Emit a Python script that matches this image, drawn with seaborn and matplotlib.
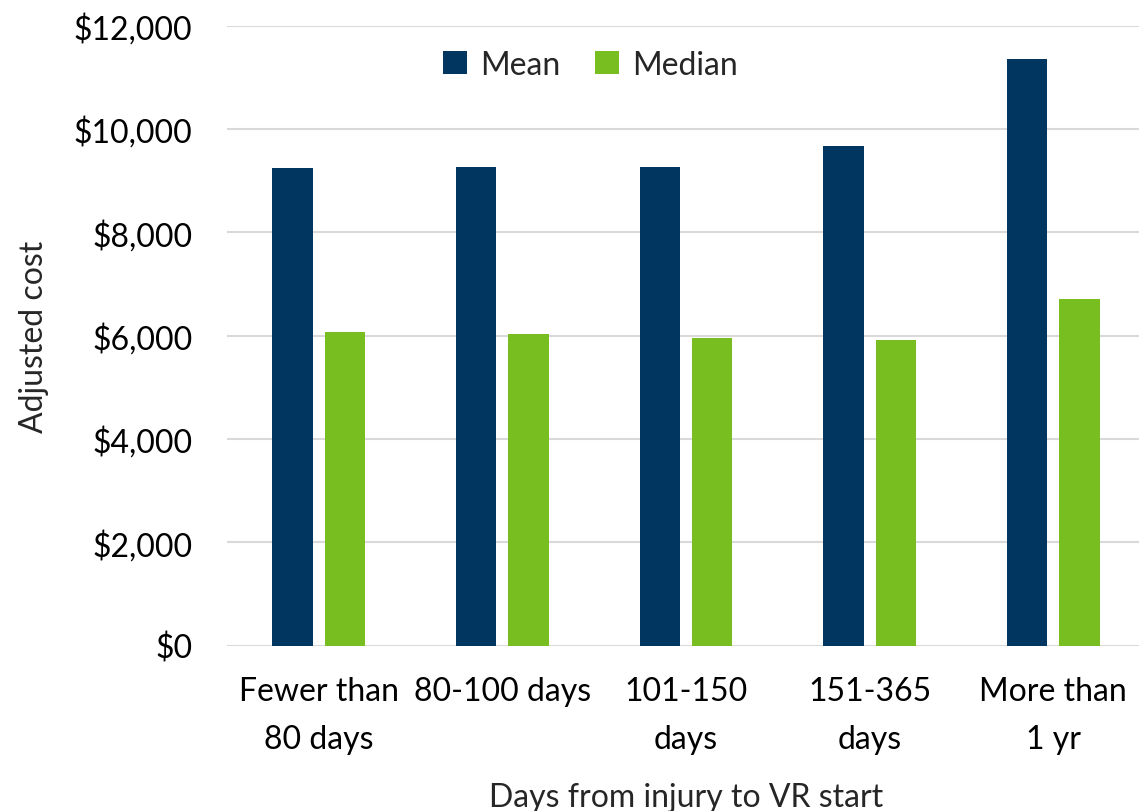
import matplotlib
matplotlib.use("Agg")
import matplotlib.pyplot as plt
import seaborn as sns
import pandas as pd
from matplotlib.ticker import FuncFormatter

categories = ["Fewer than\n80 days", "80-100 days", "101-150\ndays", "151-365\ndays", "More than\n1 yr"]
mean_values = [9235, 9265, 9260, 9670, 11355]
median_values = [6070, 6025, 5955, 5910, 6715]
series = ["Mean", "Median"]
colors = ["#00365F", "#78BE21"]

df = pd.DataFrame({
    "cat": categories * 2,
    "val": mean_values + median_values,
    "series": [series[0]] * len(categories) + [series[1]] * len(categories),
})

sns.set_theme(style="white")
plt.rcParams["font.family"] = ["Lato", "DejaVu Sans"]

FS = 23
fig = plt.figure(figsize=(11.39, 8.12), dpi=100)
ax = fig.add_axes([227 / 1139, 165.5 / 812, 918 / 1139, 620 / 812])

sns.barplot(data=df, x="cat", y="val", hue="series", palette=colors,
            width=0.57, gap=0.23, ax=ax, saturation=1, linewidth=0, zorder=3)

ax.set_ylim(0, 12000)
ax.set_yticks(range(0, 12001, 2000))
ax.yaxis.set_major_formatter(FuncFormatter(lambda v, p: f"${int(v):,}"))
ax.grid(axis="y", color="#d9d9d9", linewidth=1.5, zorder=0)
ax.set_axisbelow(True)
for s in ax.spines.values():
    s.set_visible(False)
ax.tick_params(axis="both", length=0, labelsize=FS, colors="black")
ax.tick_params(axis="y", pad=25)
ax.tick_params(axis="x", pad=22)
for lab in ax.get_xticklabels():
    lab.set_linespacing(1.75)

ax.set_ylabel("Adjusted cost", fontsize=FS, labelpad=18)
ax.set_xlabel("Days from injury to VR start", fontsize=FS, labelpad=20)

leg = ax.legend(loc="upper center", bbox_to_anchor=(0.396, 1.007), ncol=2, frameon=False,
                fontsize=FS, handlelength=0.75, handleheight=0.75, columnspacing=1.1,
                handletextpad=0.4, title=None)

fig.savefig("out.png", dpi=100)
